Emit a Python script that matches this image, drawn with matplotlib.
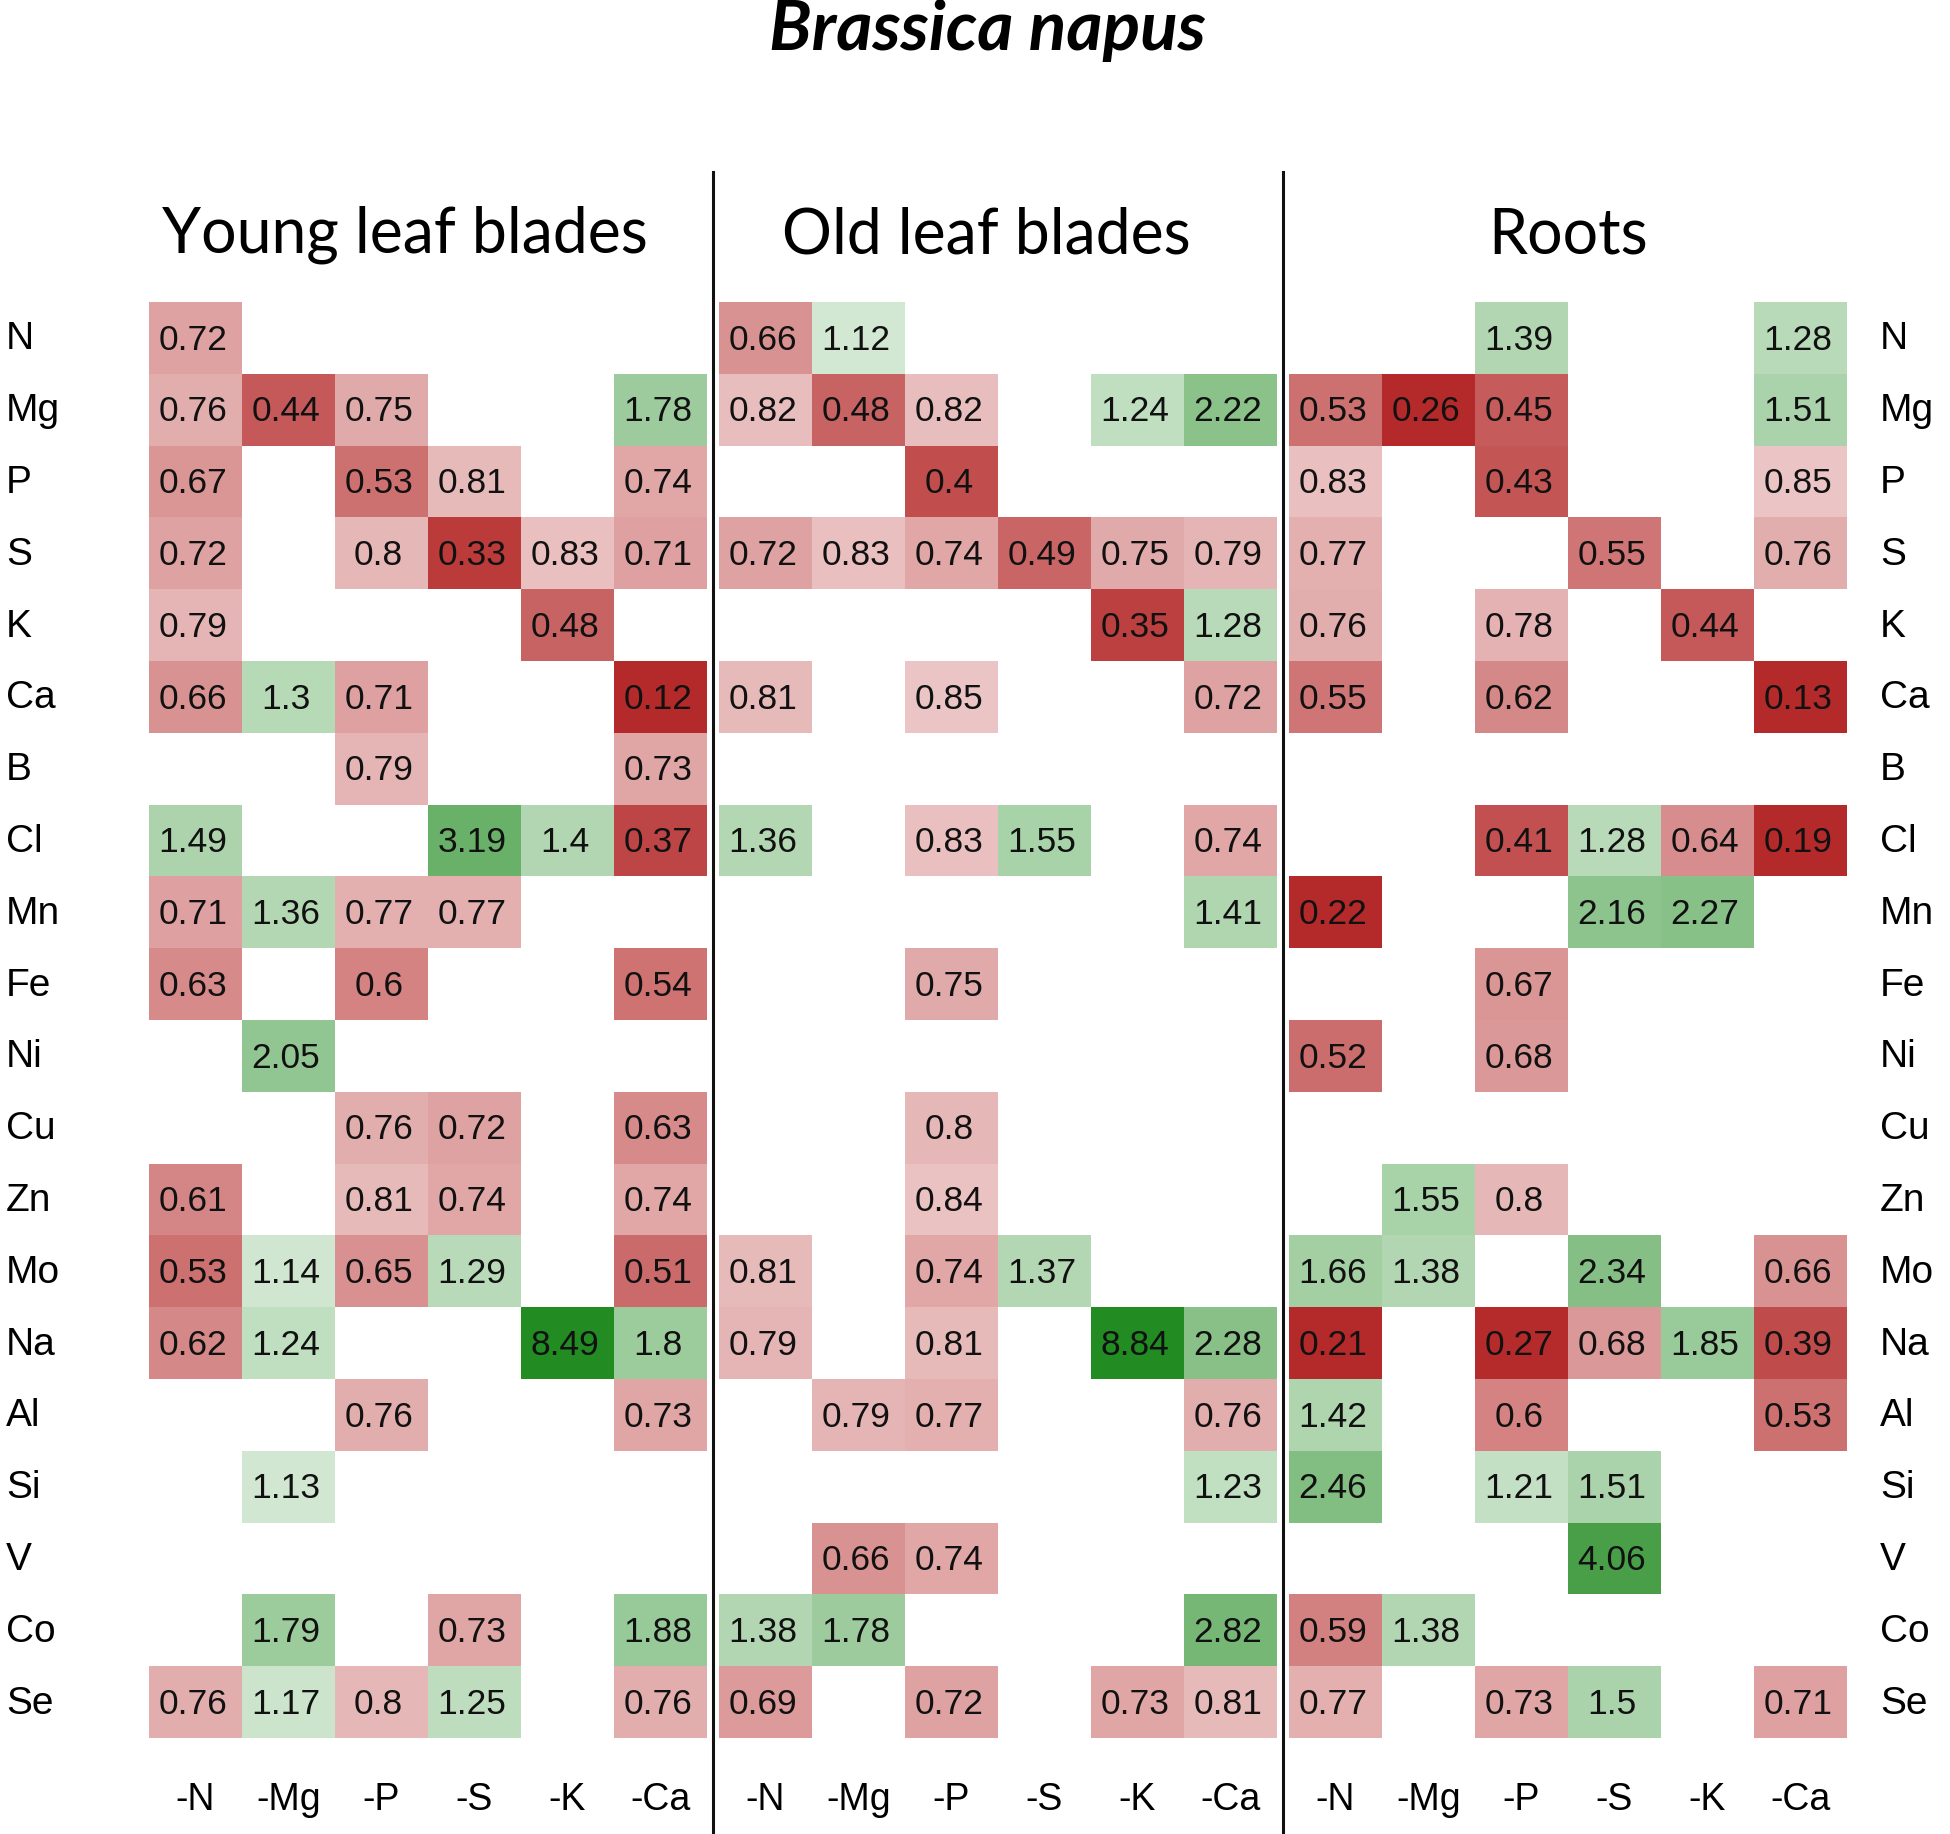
import numpy as np
import matplotlib
matplotlib.use('Agg')
import matplotlib.pyplot as plt
from matplotlib.patches import Rectangle
import matplotlib.transforms as mtransforms

n = np.nan

elements = ['N', 'Mg', 'P', 'S', 'K', 'Ca', 'B', 'Cl', 'Mn', 'Fe',
            'Ni', 'Cu', 'Zn', 'Mo', 'Na', 'Al', 'Si', 'V', 'Co', 'Se']
treatments = ['-N', '-Mg', '-P', '-S', '-K', '-Ca']
tissues = ['Young leaf blades', 'Old leaf blades', 'Roots']

# relative concentration (deficient / control), blank = not significant
young_leaf = [
    [0.72, n, n, n, n, n],
    [0.76, 0.44, 0.75, n, n, 1.78],
    [0.67, n, 0.53, 0.81, n, 0.74],
    [0.72, n, 0.8, 0.33, 0.83, 0.71],
    [0.79, n, n, n, 0.48, n],
    [0.66, 1.3, 0.71, n, n, 0.12],
    [n, n, 0.79, n, n, 0.73],
    [1.49, n, n, 3.19, 1.4, 0.37],
    [0.71, 1.36, 0.77, 0.77, n, n],
    [0.63, n, 0.6, n, n, 0.54],
    [n, 2.05, n, n, n, n],
    [n, n, 0.76, 0.72, n, 0.63],
    [0.61, n, 0.81, 0.74, n, 0.74],
    [0.53, 1.14, 0.65, 1.29, n, 0.51],
    [0.62, 1.24, n, n, 8.49, 1.8],
    [n, n, 0.76, n, n, 0.73],
    [n, 1.13, n, n, n, n],
    [n, n, n, n, n, n],
    [n, 1.79, n, 0.73, n, 1.88],
    [0.76, 1.17, 0.8, 1.25, n, 0.76],
]

old_leaf = [
    [0.66, 1.12, n, n, n, n],
    [0.82, 0.48, 0.82, n, 1.24, 2.22],
    [n, n, 0.4, n, n, n],
    [0.72, 0.83, 0.74, 0.49, 0.75, 0.79],
    [n, n, n, n, 0.35, 1.28],
    [0.81, n, 0.85, n, n, 0.72],
    [n, n, n, n, n, n],
    [1.36, n, 0.83, 1.55, n, 0.74],
    [n, n, n, n, n, 1.41],
    [n, n, 0.75, n, n, n],
    [n, n, n, n, n, n],
    [n, n, 0.8, n, n, n],
    [n, n, 0.84, n, n, n],
    [0.81, n, 0.74, 1.37, n, n],
    [0.79, n, 0.81, n, 8.84, 2.28],
    [n, 0.79, 0.77, n, n, 0.76],
    [n, n, n, n, n, 1.23],
    [n, 0.66, 0.74, n, n, n],
    [1.38, 1.78, n, n, n, 2.82],
    [0.69, n, 0.72, n, 0.73, 0.81],
]

roots = [
    [n, n, 1.39, n, n, 1.28],
    [0.53, 0.26, 0.45, n, n, 1.51],
    [0.83, n, 0.43, n, n, 0.85],
    [0.77, n, n, 0.55, n, 0.76],
    [0.76, n, 0.78, n, 0.44, n],
    [0.55, n, 0.62, n, n, 0.13],
    [n, n, n, n, n, n],
    [n, n, 0.41, 1.28, 0.64, 0.19],
    [0.22, n, n, 2.16, 2.27, n],
    [n, n, 0.67, n, n, n],
    [0.52, n, 0.68, n, n, n],
    [n, n, n, n, n, n],
    [n, 1.55, 0.8, n, n, n],
    [1.66, 1.38, n, 2.34, n, 0.66],
    [0.21, n, 0.27, 0.68, 1.85, 0.39],
    [1.42, n, 0.6, n, n, 0.53],
    [2.46, n, 1.21, 1.51, n, n],
    [n, n, n, 4.06, n, n],
    [0.59, 1.38, n, n, n, n],
    [0.77, n, 0.73, 1.5, n, 0.71],
]

RED = np.array([178, 34, 34]) / 255.
GREEN = np.array([34, 139, 34]) / 255.
WHITE = np.ones(3)


def cell_colour(v):
    # red below 1, green above 1, stronger with distance
    if v < 1:
        t = np.clip(1.2 * (1.07 - v), 0, 0.97)
        base = RED
    else:
        t = np.interp(v, [1.0, 1.12, 1.3, 1.5, 1.8, 2.28, 2.82, 3.19, 4.06, 8.5],
                      [0.1, 0.2, 0.33, 0.38, 0.45, 0.54, 0.62, 0.68, 0.83, 1.0])
        base = GREEN
    return WHITE + t * (base - WHITE)


W, H = 1950, 1834
fig = plt.figure(figsize=(W / 100, H / 100), dpi=100)

gap = 0.13
n_rows = len(elements)
n_cols = len(treatments)
x_total = 3 * n_cols + 2 * gap

left_px, right_px, top_px, bot_px = 149, 1847, 302, 1738
ax = fig.add_axes([left_px / W, 1 - bot_px / H, (right_px - left_px) / W, (bot_px - top_px) / H])
ax.set_xlim(0, x_total)
ax.set_ylim(n_rows, 0)
ax.axis('off')

num_font = 'Liberation Sans'
label_font = 'Liberation Sans'
head_font = 'Lato'
head_shift = [-0.25, -0.12, 0.0]

for g, table in enumerate([young_leaf, old_leaf, roots]):
    x0 = g * (n_cols + gap)
    arr = np.array(table, dtype=float)
    for r in range(n_rows):
        for c in range(n_cols):
            v = arr[r, c]
            if np.isnan(v):
                continue
            ax.add_patch(Rectangle((x0 + c, r), 1, 1, facecolor=cell_colour(v),
                                   edgecolor='none'))
            ax.text(x0 + c + 0.47, r + 0.53, f'{v:g}', ha='center', va='center',
                    fontsize=25.5, family=num_font, color='#111111')
    # column labels below
    for c, lab in enumerate(treatments):
        ax.text(x0 + c + 0.5, n_rows + 0.86, lab, ha='center', va='center',
                fontsize=27, family=label_font, clip_on=False)
    # tissue heading
    ax.text(x0 + n_cols / 2 + head_shift[g], -0.93, tissues[g], ha='center', va='center',
            fontsize=45, family=head_font, clip_on=False)
    # separator line
    if g > 0:
        xl = x0 - gap / 2
        ax.axvline(xl, ymin=-(H - bot_px) / (bot_px - top_px),
                   ymax=1 + (top_px - 172) / (bot_px - top_px),
                   color='#111111', lw=2.2, clip_on=False)

# element labels on both sides
trans = mtransforms.blended_transform_factory(fig.transFigure, ax.transData)
for r, el in enumerate(elements):
    ax.text(6 / W, r + 0.52, el, ha='left', va='center', fontsize=28,
            family=label_font, transform=trans, clip_on=False)
    ax.text(1880 / W, r + 0.52, el, ha='left', va='center', fontsize=28,
            family=label_font, transform=trans, clip_on=False)

fig.text(0.5065, 1 - 30 / H, 'Brassica napus', ha='center', va='center',
         fontsize=50, family=head_font, style='italic', weight='bold')

fig.savefig('out.png', dpi=100, facecolor='white')
